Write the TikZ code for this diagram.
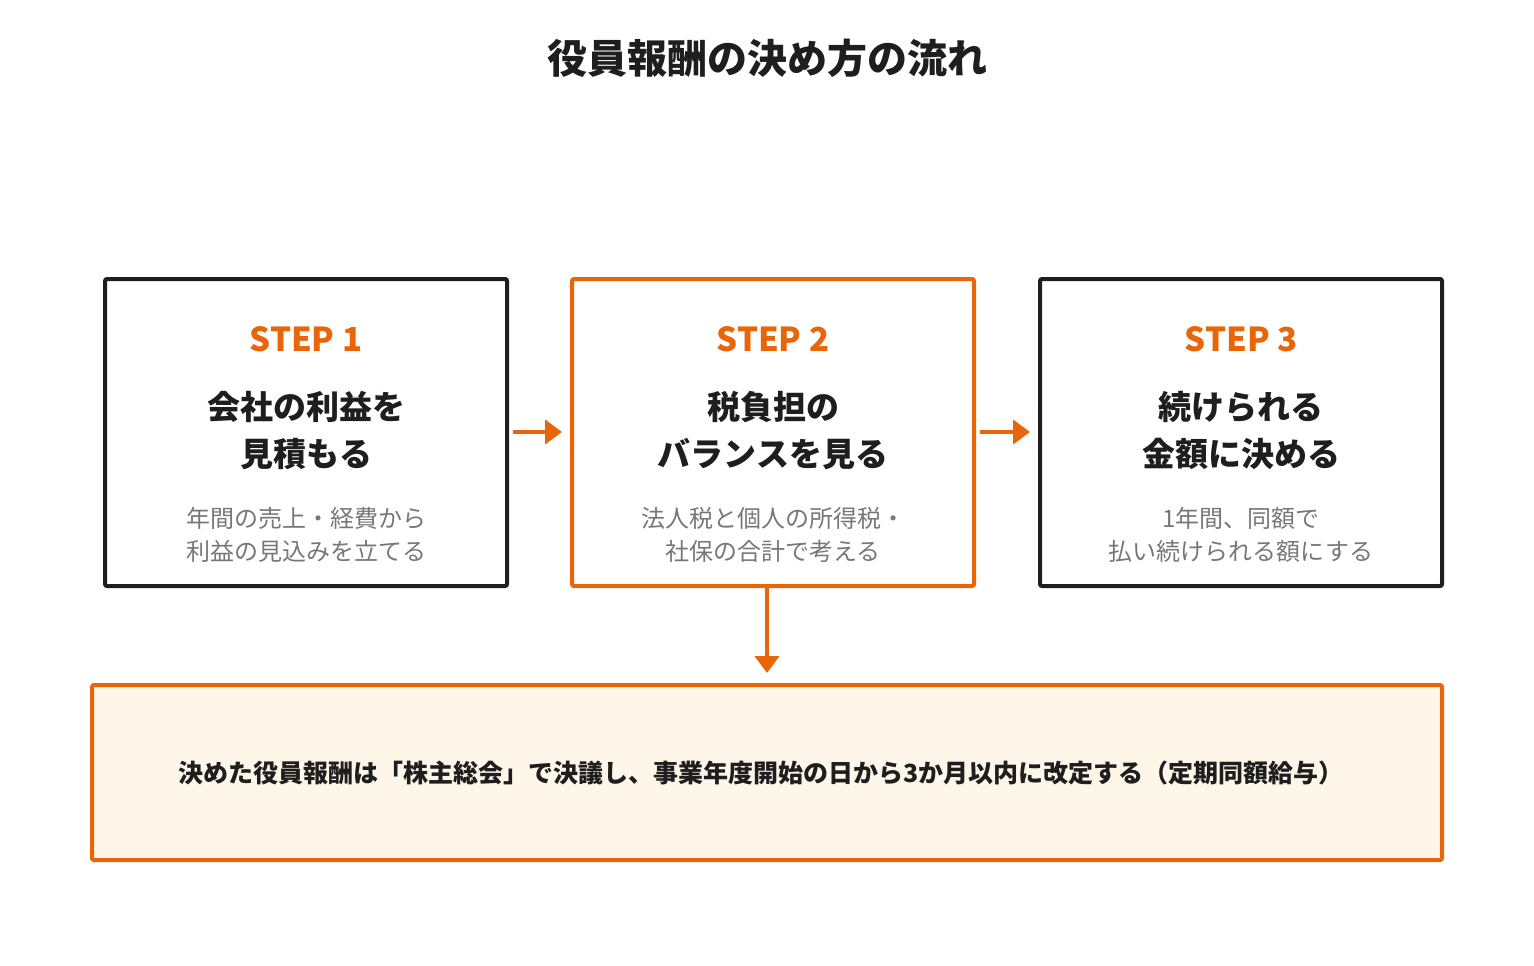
\documentclass[tikz,border=0pt]{standalone}
\usepackage{fontspec}
\setmainfont{Noto Sans CJK JP}
\usetikzlibrary{arrows.meta}
\definecolor{org}{HTML}{E8650A}
\definecolor{dk}{HTML}{1E1E1E}
\definecolor{gr}{HTML}{777777}
\definecolor{cream}{HTML}{FEF6E8}
\begin{document}
\begin{tikzpicture}[x=1pt,y=-1pt,
  box/.style={draw=dk,line width=4pt,rounded corners=2pt},
  obox/.style={draw=org,line width=4pt,rounded corners=2pt},
  steplbl/.style={text=org,font=\fontsize{33}{38}\selectfont\bfseries},
  main/.style={text=dk,font=\fontsize{33}{47}\selectfont\bfseries,align=center},
  sub/.style={text=gr,font=\fontsize{24}{33}\selectfont,align=center},
  arr/.style={draw=org,line width=4.5pt,-{Triangle[length=17pt,width=24pt]}}]
\useasboundingbox (0,0) rectangle (1534,966);
\node[font=\fontsize{40}{46}\selectfont\bfseries,text=dk] (title) at (767,58) {役員報酬の決め方の流れ};
\node[box,minimum width=402,minimum height=307] (b1) at (306,432.5) {};
\node[obox,minimum width=402,minimum height=307] (b2) at (773,432.5) {};
\node[box,minimum width=402,minimum height=307] (b3) at (1241,432.5) {};
\node[steplbl] (s1) at (306,339) {STEP 1};
\node[steplbl] (s2) at (773,339) {STEP 2};
\node[steplbl] (s3) at (1241,339) {STEP 3};
\node[main] (m1) at (306,431) {会社の利益を\\見積もる};
\node[main] (m2) at (773,431) {税負担の\\バランスを見る};
\node[main] (m3) at (1241,431) {続けられる\\金額に決める};
\node[sub] (t1) at (306,535) {年間の売上・経費から\\利益の見込みを立てる};
\node[sub] (t2) at (773,535) {法人税と個人の所得税・\\社保の合計で考える};
\node[sub] (t3) at (1241,535) {1年間、同額で\\払い続けられる額にする};
\node[obox,fill=cream,minimum width=1350,minimum height=175] (bot) at (767,772.5) {};
\node[font=\fontsize{25}{28}\selectfont\bfseries,text=dk] (bt) at (761,773) {決めた役員報酬は「株主総会」で決議し、事業年度開始の日から3か月以内に改定する（定期同額給与）};
\coordinate (a1s) at (513,432); \coordinate (a1e) at (562,432);
\coordinate (a2s) at (980,432); \coordinate (a2e) at (1030,432);
\coordinate (a3s) at (767,588); \coordinate (a3e) at (767,673);
\draw[arr] (a1s) -- (a1e);
\draw[arr] (a2s) -- (a2e);
\draw[arr] (a3s) -- (a3e);
\end{tikzpicture}
\end{document}
